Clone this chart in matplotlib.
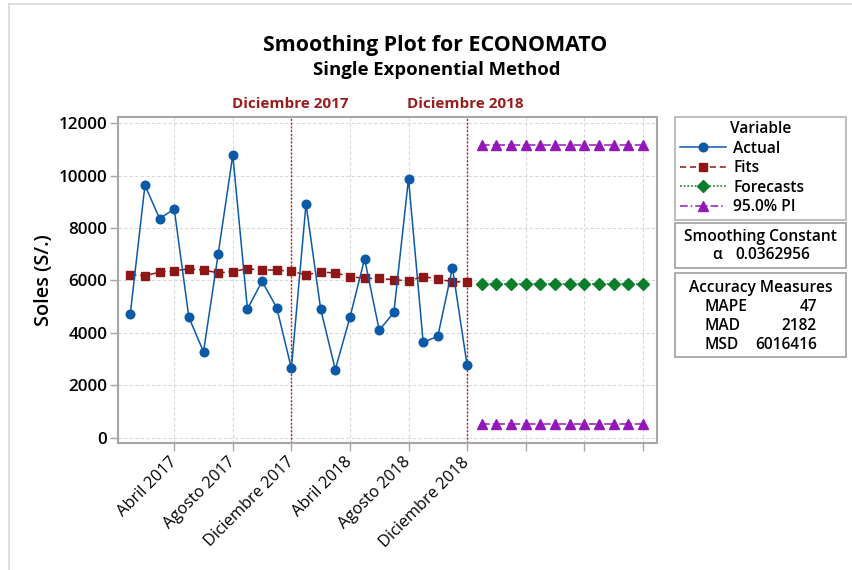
import matplotlib
matplotlib.use("Agg")
import matplotlib.pyplot as plt
from matplotlib.lines import Line2D
from matplotlib.patches import Rectangle
from matplotlib.transforms import ScaledTranslation

plt.rcParams['font.family'] = ['Open Sans', 'DejaVu Sans']

# ---------------- data ----------------
months = list(range(1, 25))
actual = [4730, 9640, 8360, 8730, 4590, 3280, 7010, 10790, 4910, 5970, 4960, 2650,
          8920, 4910, 2600, 4590, 6830, 4100, 4780, 9890, 3640, 3870, 6480, 2770]
fits = [6220, 6180, 6320, 6360, 6450, 6400, 6290, 6340, 6450, 6400, 6400, 6350,
        6220, 6320, 6290, 6150, 6080, 6080, 6030, 5990, 6150, 6060, 5950, 5950]
forecast_months = list(range(25, 37))
forecasts = [5855] * 12
pi_upper = [11190] * 12
pi_lower = [520] * 12

tick_positions = [4, 8, 12, 16, 20, 24, 28, 32, 36]
tick_labels = ['Abril 2017', 'Agosto 2017', 'Diciembre 2017', 'Abril 2018',
               'Agosto 2018', 'Diciembre 2018', '', '', '']
yticks = [0, 2000, 4000, 6000, 8000, 10000, 12000]
ref_positions = [12, 24]
ref_labels = ['Diciembre 2017', 'Diciembre 2018']

alpha_value = '0.0362956'
measure_names = ['MAPE', 'MAD', 'MSD']
measure_values = ['47', '2182', '6016416']

# ---------------- styles ----------------
c_actual = '#0b5aa8'
c_fits = '#8e1616'
c_fore = '#0c7d2a'
c_pi = '#9418b8'
c_ref = '#c81e1e'
c_reftxt = '#9a1d1d'
c_frame = '#a6a6a6'
box_fs = 11.2
box_fw = 'semibold'

W, H = 852, 570
fig = plt.figure(figsize=(W / 100, H / 100), dpi=100)

def fx(px):
    return px / W

def fy(py):
    return 1 - py / H

ax_l, ax_r, ax_t, ax_b = 118.3, 656.7, 117.3, 443.3
ax = fig.add_axes([fx(ax_l), fy(ax_b), fx(ax_r - ax_l), (ax_b - ax_t) / H])

ax.set_xlim(0.18, 36.95)
ax.set_ylim(-215, 12230)

ax.grid(True, color='#d8d8d8', linestyle=(0, (3, 2)), linewidth=0.8)
ax.set_axisbelow(True)

for x, lab in zip(ref_positions, ref_labels):
    ax.axvline(x, color=c_ref, linestyle=(0, (1.5, 1.2)), linewidth=1.0, zorder=1.5)
    ax.text(x - 0.1, 1.02, lab, transform=ax.get_xaxis_transform(), ha='center',
            va='bottom', color=c_reftxt, fontsize=11, fontweight='bold')

l_act, = ax.plot(months, actual, color=c_actual, linewidth=1.1, marker='o',
                 markersize=6.2, label='Actual', zorder=4)
l_fit, = ax.plot(months, fits, color=c_fits, linewidth=1.1, linestyle=(0, (4, 2.5)),
                 marker='s', markersize=6.2, label='Fits', zorder=3)
l_fore, = ax.plot(forecast_months, forecasts, color=c_fore, linewidth=1.1,
                  linestyle=(0, (1.2, 1.2)), marker='D', markersize=5.8,
                  label='Forecasts', zorder=3)
l_pi, = ax.plot(forecast_months, pi_upper, color=c_pi, linewidth=1.1,
                linestyle=(0, (5, 2, 1, 2)), marker='^', markersize=7.5,
                label='95.0% PI', zorder=3)
ax.plot(forecast_months, pi_lower, color=c_pi, linewidth=1.1,
        linestyle=(0, (5, 2, 1, 2)), marker='^', markersize=7.5, zorder=3)

ax.set_xticks(tick_positions)
ax.set_xticklabels(tick_labels, rotation=45, ha='right', va='center',
                   rotation_mode='anchor', fontsize=11.8)
shift = ScaledTranslation(-3 / 100, 0, fig.dpi_scale_trans)
for lab in ax.get_xticklabels():
    lab.set_transform(lab.get_transform() + shift)
ax.set_yticks(yticks)
ax.set_yticklabels([str(v) for v in yticks], fontsize=12.3, fontweight='semibold')
ax.tick_params(axis='both', direction='out', length=6, width=1, color=c_frame)
ax.tick_params(axis='y', pad=2)
ax.tick_params(axis='x', pad=6)
for s in ax.spines.values():
    s.set_color(c_frame)
    s.set_linewidth(1.5)

ax.set_ylabel('Soles (S/.)', fontsize=14.3, fontweight='semibold')
ax.yaxis.set_label_coords((54 - ax_l) / (ax_r - ax_l), 0.5)

# titles
fig.text(fx(435), fy(45), 'Smoothing Plot for ECONOMATO', ha='center', va='center',
         fontsize=15.4, fontweight='bold')
fig.text(fx(437), fy(70), 'Single Exponential Method', ha='center', va='center',
         fontsize=13.3, fontweight='bold')

# legend box (Variable)
leg = fig.legend(handles=[l_act, l_fit, l_fore, l_pi], title='Variable',
                 loc='upper left',
                 bbox_to_anchor=(fx(675), fy(218), fx(171), 101.3 / H),
                 mode='expand', fancybox=False, frameon=True,
                 prop={'size': box_fs, 'weight': box_fw},
                 title_fontproperties={'size': box_fs, 'weight': box_fw},
                 handlelength=2.95, handletextpad=0.5,
                 labelspacing=0.22, borderpad=0.3, borderaxespad=0)
leg.get_frame().set_edgecolor(c_frame)
leg.get_frame().set_linewidth(1.3)

# boxes for smoothing constant and accuracy measures
def box(x0, y0, x1, y1):
    r = Rectangle((fx(x0), fy(y1)), fx(x1 - x0), (y1 - y0) / H, transform=fig.transFigure,
                  facecolor='white', edgecolor=c_frame, linewidth=1.3)
    fig.add_artist(r)

def btext(x, y, s, ha):
    fig.text(fx(x), fy(y), s, ha=ha, va='center', fontsize=box_fs, fontweight=box_fw)

box(675, 223, 846, 268)
btext(760.5, 237, 'Smoothing Constant', 'center')
btext(717, 255, '\u03b1', 'center')
btext(773, 255, alpha_value, 'center')

box(675, 272.7, 846, 356.7)
btext(760.5, 288, 'Accuracy Measures', 'center')
for i, (n, v) in enumerate(zip(measure_names, measure_values)):
    yy = 307 + 19 * i
    btext(705, yy, n, 'left')
    btext(817, yy, v, 'right')

# screenshot frame lines
fig.add_artist(Line2D([fx(9), 1], [fy(4), fy(4)], transform=fig.transFigure,
                      color='#d9d9d9', linewidth=1.2))
fig.add_artist(Line2D([fx(9), fx(9)], [fy(4), 0], transform=fig.transFigure,
                      color='#d9d9d9', linewidth=1.2))

fig.savefig('out.png', dpi=100)
